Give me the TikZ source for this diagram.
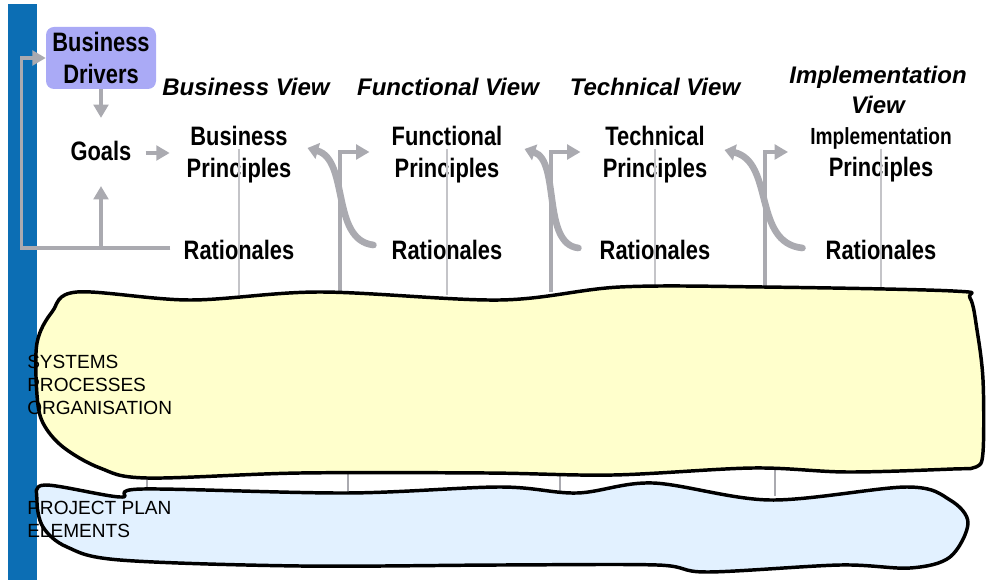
\documentclass[tikz,border=0pt]{standalone}
\usepackage{fontspec}
\setmainfont{Liberation Sans}
\newfontfamily\narrowfont{Liberation Sans}[FakeStretch=0.82]
\definecolor{archBar}{RGB}{12,110,180}
\definecolor{archLavender}{RGB}{170,170,246}
\definecolor{archGrey}{RGB}{170,170,176}
\definecolor{archThin}{RGB}{196,196,200}
\definecolor{archYellow}{RGB}{255,255,204}
\definecolor{archSky}{RGB}{226,241,255}
\usetikzlibrary{arrows.meta,positioning,calc}

\begin{document}
\begin{tikzpicture}[x=0.75pt, y=-0.75pt,
    label/.style={font=\narrowfont\bfseries\fontsize{20}{24}\selectfont,
                  align=center, inner sep=0pt},
    view/.style={font=\bfseries\itshape\fontsize{18}{22.5}\selectfont,
                 align=center, inner sep=0pt},
    layer/.style={font=\fontsize{14.3}{17.25}\selectfont, align=left,
                  anchor=west, inner sep=0pt},
    flow/.style={-{Triangle[length=10pt,width=11pt]}, archGrey, line width=2.4pt},
    swing/.style={-{Triangle[length=8pt,width=12pt]}, archGrey, line width=5pt,
                  line cap=round},
    guide/.style={archThin, line width=0.8pt},
    blob/.style={draw=black, line width=2.6pt, line join=round}
  ]
  \useasboundingbox (0,0) rectangle (1005,580);
  \fill[archBar] (8,4) rectangle (37,580);

  % column texts
  \node[label, fill=archLavender, rounded corners=6pt, minimum width=82.5pt,
        minimum height=46.5pt] (drivers) at (101,58) {Business\\Drivers};
  \node[label] (goals) at (101,151) {Goals};

  \node[view] (bizview)  at (246,87) {Business View};
  \node[view] (funview)  at (448,87) {Functional View};
  \node[view] (techview) at (655,87) {Technical View};
  \node[view] (implview) at (878,90) {Implementation\\View};

  \node[label] (bizprin)  at (239,155) {Business\\Principles};
  \node[label] (funprin)  at (447,155) {Functional\\Principles};
  \node[label] (techprin) at (655,155) {Technical\\Principles};
  \node[label] (implprin) at (881,155)
    {{\fontsize{17.5}{19}\selectfont Implementation}\\Principles};

  \node[label] (bizrat)  at (239,250) {Rationales};
  \node[label] (funrat)  at (447,250) {Rationales};
  \node[label] (techrat) at (655,250) {Rationales};
  \node[label] (implrat) at (881,250) {Rationales};

  \coordinate (funfoot)  at (340,292);
  \coordinate (techfoot) at (551,292);
  \coordinate (implfoot) at (765,292);

  % thin column guides
  \foreach \col in {bizprin,funprin,techprin,implprin}
    \draw[guide] ($(\col.center)+(0,-6)$) -- ($(\col.center)+(0,140)$);
  \foreach \gx in {147,348,560,775}
    \draw[archGrey, line width=2pt] (\gx,460) -- (\gx,496);

  % goal loop
  \draw[flow] (drivers.south) -- ($(goals.north)+(0,-23)$);
  \draw[flow] ($(goals.east)+(14,2)$) -- ($(goals.east)+(38,2)$);
  \draw[flow] ($(goals.south)+(0,88)$) -- ($(goals.south)+(0,25)$);
  \draw[flow] ($(bizrat.west)+(-13,-2)$) -| ($(drivers.west)+(-24,0)$)
    -- (drivers.west);

  % rationales feed back to the previous principles
  \draw[swing] ($(funrat.west)+(-18,-5)$) .. controls +(-43,-5) and +(42,12)
    .. ($(bizprin.east)+(16,-7)$);
  \draw[swing] ($(techrat.west)+(-21,-2)$) .. controls +(-37,-4) and +(36,12)
    .. ($(funprin.east)+(22,-6)$);
  \draw[swing] ($(implrat.west)+(-23,-2)$) .. controls +(-50,-5) and +(50,12)
    .. ($(techprin.east)+(17,-5)$);

  % layers drive the next principles
  \draw[flow] (funfoot) |- ($(funprin.west)+(-22,-3)$);
  \draw[flow] (techfoot) |- ($(techprin.west)+(-22,-3)$);
  \draw[flow] (implfoot) |- ($(implprin.west)+(-22,-3)$);

  % hand-drawn layers
  \draw[blob, fill=archYellow] plot[smooth cycle, tension=0.55] coordinates {
    (77,292) (190,300) (320,292) (500,300) (620,287) (763,287) (953,291)
    (970,298) (977,330) (983,380) (983,452) (976,467) (953,469) (847,472)
    (753,468) (613,475) (487,473) (300,473) (147,478) (100,468) (63,447)
    (43,423) (37,395) (37,343) (52,312)};
  \draw[blob, fill=archSky] plot[smooth cycle, tension=0.55] coordinates {
    (45,485) (120,497) (143,489) (347,493) (500,487) (577,493) (653,483)
    (770,500) (907,487) (950,500) (968,523) (950,557) (910,568) (840,565)
    (707,572) (657,565) (500,565) (300,566) (120,560) (67,547) (43,527)
    (37,500)};

  \node[layer] (sysnote)  at (27,385) {SYSTEMS\\PROCESSES\\ORGANISATION};
  \node[layer] (plannote) at (27,519) {PROJECT PLAN\\ELEMENTS};
\end{tikzpicture}
\end{document}
